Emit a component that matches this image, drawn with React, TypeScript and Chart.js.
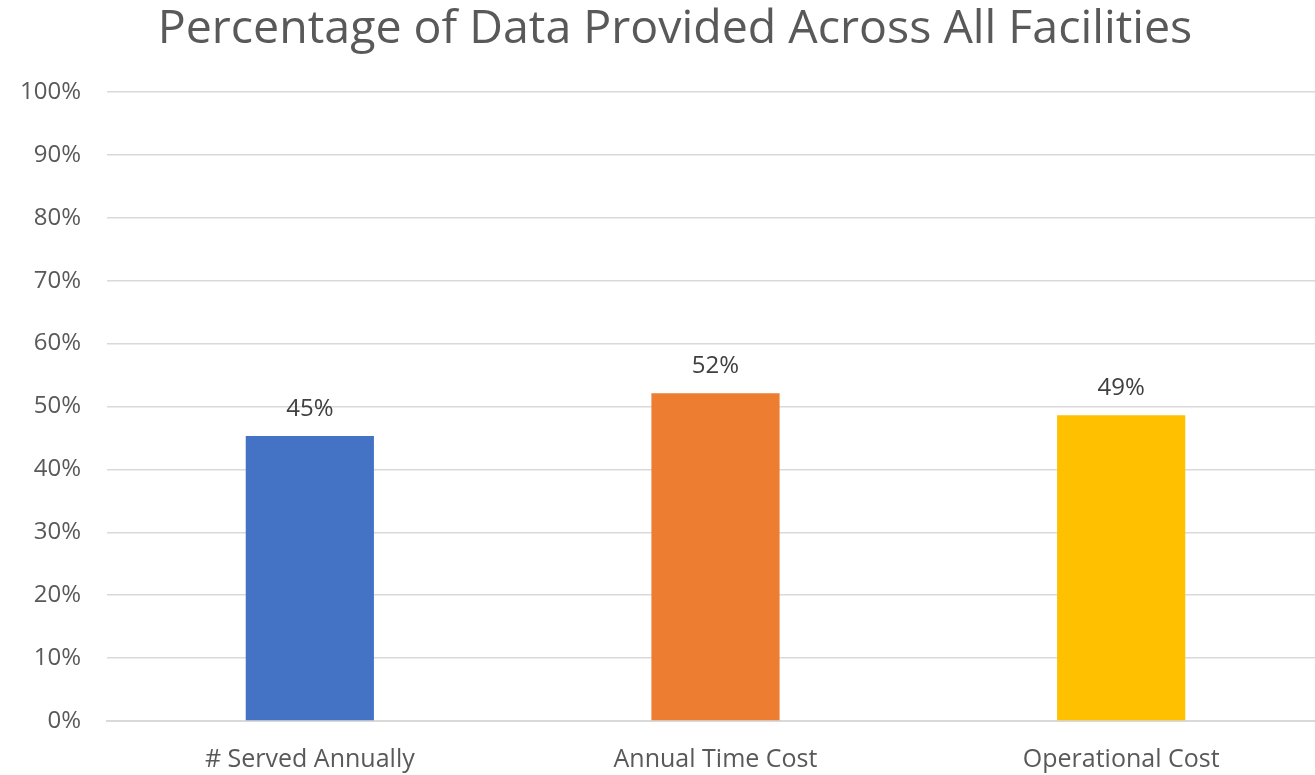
import React, { useEffect, useRef } from "react";
import { Chart, registerables } from "chart.js";

Chart.register(...registerables);

const categories = ["# Served Annually", "Annual Time Cost", "Operational Cost"];
const values = [0.453, 0.521, 0.486];
const barColors = ["#4472C4", "#ED7D31", "#FFC000"];
const titleText = "Percentage of Data Provided Across All Facilities";

const FONT = "'Open Sans', 'Noto Sans', sans-serif";

const dataLabelPlugin = {
  id: "dataLabels",
  afterDatasetsDraw(chart: any) {
    const ctx = chart.ctx;
    const meta = chart.getDatasetMeta(0);
    ctx.save();
    ctx.fillStyle = "#404040";
    ctx.font = `24px ${FONT}`;
    ctx.textAlign = "center";
    ctx.textBaseline = "middle";
    meta.data.forEach((el: any, i: number) => {
      const v = chart.data.datasets[0].data[i] as number;
      ctx.fillText(Math.round(v * 100) + "%", el.x, el.y - 27);
    });
    ctx.restore();
  },
};

const titlePlugin = {
  id: "customTitle",
  afterDraw(chart: any) {
    const ctx = chart.ctx;
    ctx.save();
    ctx.fillStyle = "#595959";
    ctx.font = `46.5px ${FONT}`;
    ctx.textAlign = "center";
    ctx.textBaseline = "middle";
    ctx.fillText(titleText, 675, 30);
    ctx.restore();
  },
};

export default function App() {
  const ref = useRef<HTMLCanvasElement>(null);
  useEffect(() => {
    if (!ref.current) return;
    const chart = new Chart(ref.current, {
      type: "bar",
      data: {
        labels: categories,
        datasets: [
          {
            data: values,
            backgroundColor: barColors,
            barPercentage: 0.316,
            categoryPercentage: 1,
          },
        ],
      },
      options: {
        animation: false,
        responsive: false,
        maintainAspectRatio: false,
        layout: { padding: { left: 0, right: 0, top: 92, bottom: 0 } },
        plugins: {
          legend: { display: false },
          tooltip: { enabled: false },
          title: { display: false },
        },
        scales: {
          x: {
            grid: { display: false, drawTicks: false },
            border: { display: true, color: "#D9D9D9", width: 2 },
            ticks: {
              color: "#595959",
              font: { family: FONT, size: 25 },
              padding: 24,
            },
            afterFit: (s: any) => {
              s.height = 54;
            },
          },
          y: {
            min: 0,
            max: 1,
            grid: { color: "#D9D9D9", lineWidth: 1.5, drawTicks: false },
            border: { display: false },
            ticks: {
              stepSize: 0.1,
              color: "#595959",
              font: { family: FONT, size: 24 },
              padding: 26,
              callback: (v: any) => Math.round(Number(v) * 100) + "%",
            },
            afterFit: (s: any) => {
              s.width = 107;
            },
          },
        },
      },
      plugins: [dataLabelPlugin, titlePlugin],
    });
    return () => chart.destroy();
  }, []);
  return (
    <div
      style={{
        position: "fixed",
        left: 0,
        top: 0,
        width: 1315,
        height: 775,
        overflow: "hidden",
        background: "#fff",
      }}
    >
      <canvas ref={ref} width={1324} height={775} style={{ display: "block" }} />
    </div>
  );
}
